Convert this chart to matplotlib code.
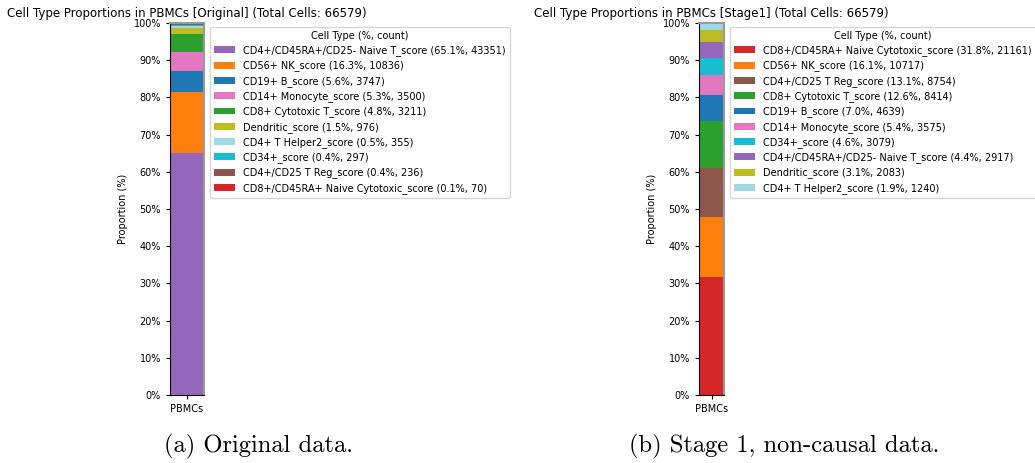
import matplotlib
matplotlib.use("Agg")
import matplotlib.pyplot as plt
from matplotlib.ticker import FuncFormatter

# 原始数据：各细胞类型计数（按计数降序，即堆叠自下而上）
orig_types = [
    "CD4+/CD45RA+/CD25- Naive T_score", "CD56+ NK_score", "CD19+ B_score",
    "CD14+ Monocyte_score", "CD8+ Cytotoxic T_score", "Dendritic_score",
    "CD4+ T Helper2_score", "CD34+_score", "CD4+/CD25 T Reg_score",
    "CD8+/CD45RA+ Naive Cytotoxic_score",
]
orig_counts = [43351, 10836, 3747, 3500, 3211, 976, 355, 297, 236, 70]

# Stage1 数据
stage1_types = [
    "CD8+/CD45RA+ Naive Cytotoxic_score", "CD56+ NK_score", "CD4+/CD25 T Reg_score",
    "CD8+ Cytotoxic T_score", "CD19+ B_score", "CD14+ Monocyte_score",
    "CD34+_score", "CD4+/CD45RA+/CD25- Naive T_score", "Dendritic_score",
    "CD4+ T Helper2_score",
]
stage1_counts = [21161, 10717, 8754, 8414, 4639, 3575, 3079, 2917, 2083, 1240]

# 每种细胞类型固定颜色，两张图保持一致
type_colors = {
    "CD4+/CD45RA+/CD25- Naive T_score": "#9467bd",
    "CD56+ NK_score": "#ff7f0e",
    "CD19+ B_score": "#1f77b4",
    "CD14+ Monocyte_score": "#e377c2",
    "CD8+ Cytotoxic T_score": "#2ca02c",
    "Dendritic_score": "#bcbd22",
    "CD4+ T Helper2_score": "#9edae5",
    "CD34+_score": "#17becf",
    "CD4+/CD25 T Reg_score": "#8c564b",
    "CD8+/CD45RA+ Naive Cytotoxic_score": "#d62728",
}

W, H = 1035, 463
fig = plt.figure(figsize=(W / 100, H / 100), dpi=100)


def panel(ax_px, leg_px, tag, types, counts, caption, cap_x):
    x0, x1, y0, y1 = ax_px
    ax = fig.add_axes([x0 / W, 1 - y1 / H, (x1 - x0) / W, (y1 - y0) / H])
    total = sum(counts)
    bottom = 0.0
    for t, c in zip(types, counts):
        pct = c / total * 100
        ax.bar(["PBMCs"], [pct], bottom=bottom, width=1.0, color=type_colors[t],
               label=f"{t} ({pct:.1f}%, {c})")
        bottom += pct
    ax.set_xlim(-0.5, 0.5)
    ax.set_ylim(0, 100)
    ax.set_yticks(range(0, 101, 10))
    ax.yaxis.set_major_formatter(FuncFormatter(lambda v, _: f"{v:.0f}%"))
    ax.tick_params(labelsize=7, length=3)
    ax.set_ylabel("Proportion (%)", fontsize=7)
    ax.set_title(f"Cell Type Proportions in PBMCs [{tag}] (Total Cells: {total})",
                 fontsize=8.5, pad=4)
    for s in ("top", "right"):
        ax.spines[s].set_color("#999999")
        ax.spines[s].set_linewidth(1.5)
    fig.legend(*ax.get_legend_handles_labels(), loc="upper left",
               bbox_to_anchor=(leg_px[0] / W, 1 - leg_px[1] / H),
               title="Cell Type (%, count)", fontsize=7.0, title_fontsize=7.0,
               labelspacing=0.45, handlelength=2.2, borderaxespad=0)
    fig.text(cap_x / W, 1 - 446 / H, caption, family="cmr10", fontsize=17.7,
             ha="center", va="center")


panel((170, 204, 23, 395), (210, 27), "Original", orig_types, orig_counts,
      "(a) Original data.", 258)
panel((699, 724, 23, 395), (730, 27), "Stage1", stage1_types, stage1_counts,
      "(b) Stage 1, non-causal data.", 784)

fig.savefig("out.png", dpi=100)
